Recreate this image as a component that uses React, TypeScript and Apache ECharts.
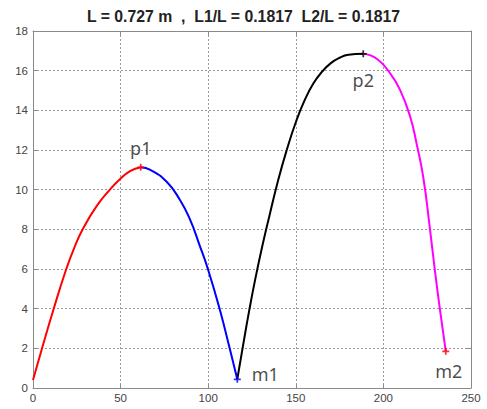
import React, { useEffect, useRef } from "react";
import * as echarts from "echarts";

const titleText = "L = 0.727 m  ,  L1/L = 0.1817  L2/L = 0.1817";
const xTicks = [0, 50, 100, 150, 200, 250];
const yTicks = [0, 2, 4, 6, 8, 10, 12, 14, 16, 18];

const redSeg: [number, number][] = [
  [0, 0.4], [5.0, 1.95], [11.6, 3.93], [18.8, 5.95], [24, 7.17], [28.6, 8.04],
  [36.4, 9.18], [43.9, 10.0], [49.3, 10.5], [55.4, 10.93], [61.5, 11.13],
];
const blueSeg: [number, number][] = [
  [61.5, 11.13], [67, 11.0], [76.3, 10.4], [83.9, 9.48], [89.6, 8.5],
  [95, 7.22], [100, 5.95], [106.7, 3.93], [112.4, 1.95], [116.6, 0.44],
];
const blackSeg: [number, number][] = [
  [116.6, 0.44], [120, 2.2], [123.5, 3.95], [127, 5.55], [131, 7.2], [135, 8.7],
  [140, 10.5], [145, 12.05], [150, 13.4], [155, 14.5], [160, 15.35], [165, 15.95],
  [170, 16.38], [175, 16.65], [180, 16.8], [188.5, 16.85],
];
const magentaSeg: [number, number][] = [
  [188.5, 16.85], [196.2, 16.6], [203.8, 15.87], [209.5, 15.03], [215.2, 13.7],
  [219, 12.3], [222.8, 10.6], [226.6, 8.0], [229.5, 5.85], [232.6, 3.75], [235.6, 1.85],
];

const markNames = ["p1", "m1", "p2", "m2"];
const markPoints: [number, number][] = [
  [61.5, 11.13], [116.6, 0.44], [188.5, 16.85], [235.6, 1.85],
];
const markColors = ["#ff0000", "#0000ff", "#000000", "#ff0000"];

export default function App() {
  const ref = useRef<HTMLDivElement>(null);
  useEffect(() => {
    if (!ref.current) return;
    const chart = echarts.init(ref.current, undefined, { renderer: "svg" });
    const cross = "path://M3,0H5V3H8V5H5V8H3V5H0V3H3Z";
    const labelPos: any[] = [
      { position: "top", offset: [0, -2] },
      { position: "right", offset: [6, -5] },
      { position: "bottom", offset: [0, 9] },
      { position: "bottom", offset: [3, 2] },
    ];
    const axisLineStyle = { color: "#8a8a8a", width: 1 };
    const splitLine = { show: true, lineStyle: { color: "#9a9a9a", type: [2, 2] as any, width: 1 } };
    const lineSeries = (data: [number, number][], color: string) => ({
      type: "line",
      data,
      smooth: 0.5,
      showSymbol: false,
      lineStyle: { color, width: 2 },
      itemStyle: { color },
      z: 3,
    });
    chart.setOption({
      animation: false,
      title: {
        text: titleText,
        left: "center",
        top: 3,
        textStyle: { fontSize: 15.8, fontWeight: "bold", fontFamily: "Arial, Liberation Sans", color: "#222" },
      },
      grid: { left: 33, right: 16, top: 31, bottom: 21 },
      xAxis: [
        {
          type: "value", min: 0, max: 250, interval: 50,
          axisLine: { show: true, lineStyle: axisLineStyle },
          axisTick: { show: true, inside: true, length: 4, lineStyle: axisLineStyle },
          axisLabel: { color: "#444", fontSize: 11.5, fontFamily: "Arial, Liberation Sans", margin: 4,
            formatter: (v: number) => (xTicks.includes(v) ? String(v) : "") },
          splitLine,
        },
        {
          type: "value", min: 0, max: 250, interval: 50, position: "top",
          axisLine: { show: true, onZero: false, lineStyle: axisLineStyle },
          axisTick: { show: true, inside: true, length: 4, lineStyle: axisLineStyle },
          axisLabel: { show: false },
          splitLine: { show: false },
        },
      ],
      yAxis: [
        {
          type: "value", min: 0, max: 18, interval: 2,
          axisLine: { show: true, lineStyle: axisLineStyle },
          axisTick: { show: true, inside: true, length: 4, lineStyle: axisLineStyle },
          axisLabel: { color: "#444", fontSize: 11.5, fontFamily: "Arial, Liberation Sans", margin: 5,
            formatter: (v: number) => (yTicks.includes(v) ? String(v) : "") },
          splitLine,
        },
        {
          type: "value", min: 0, max: 18, interval: 2, position: "right",
          axisLine: { show: true, onZero: false, lineStyle: axisLineStyle },
          axisTick: { show: true, inside: true, length: 4, lineStyle: axisLineStyle },
          axisLabel: { show: false },
          splitLine: { show: false },
        },
      ],
      series: [
        lineSeries(redSeg, "#ff0000"),
        lineSeries(blueSeg, "#0000ff"),
        lineSeries(blackSeg, "#000000"),
        lineSeries(magentaSeg, "#ff00ff"),
        {
          type: "scatter",
          symbol: cross,
          symbolSize: 7,
          z: 5,
          data: markPoints.map((p, i) => ({
            value: p,
            name: markNames[i],
            itemStyle: { color: markColors[i] },
            label: {
              show: true,
              formatter: markNames[i],
              color: "#1a1a1a",
              fontSize: 18,
              fontFamily: "Noto Sans, Arial",
              ...labelPos[i],
            },
          })),
        },
      ],
    });
    return () => chart.dispose();
  }, []);
  return <div ref={ref} style={{ position: "fixed", left: 0, top: 0, width: 487, height: 409, background: "#fff" }} />;
}
